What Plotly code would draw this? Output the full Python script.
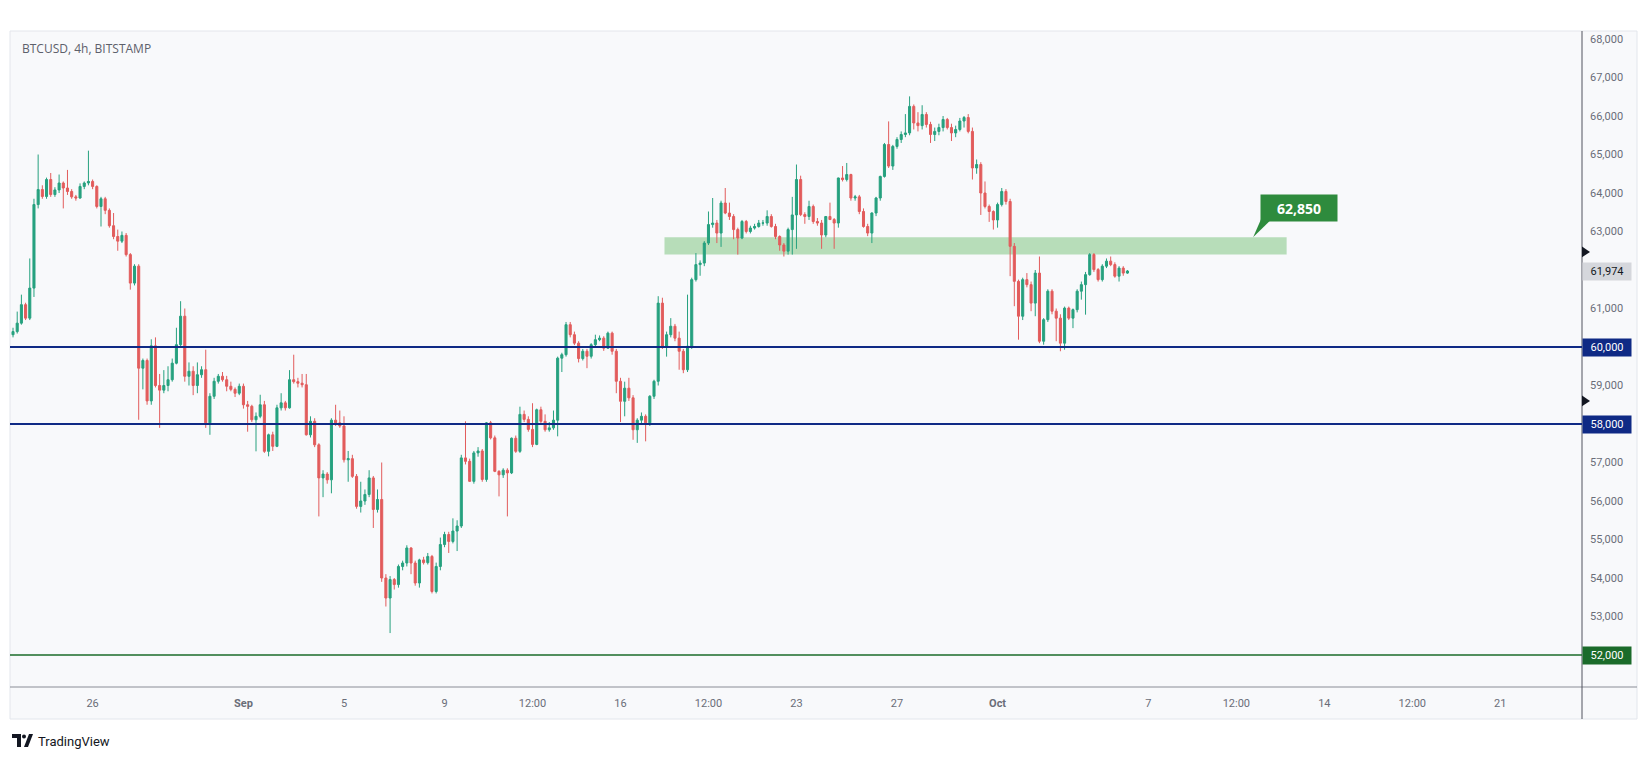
import plotly.graph_objects as go
import pandas as pd

# ---------------- data (BTCUSD 4h, Bitstamp) ----------------
start_time = "2024-08-22 20:00"

opens = [
    60320, 60400, 60620, 61100, 60750, 61530, 63700, 64090, 63910, 64350,
    63960, 64080, 64260, 64130, 64040, 63900, 63870, 64170, 64260, 64300,
    64170, 63650, 63850, 63550, 63150, 62870, 62750, 62900, 62400, 61660,
    62100, 59450, 59650, 58600, 60030, 59000, 58880, 59000, 59150, 59580,
    60060, 60800, 59240, 59370, 59000, 59280, 59410, 58030, 58720, 59110,
    59240, 59150, 58980, 58900, 58800, 58980, 58500, 58460, 58110, 58200,
    58500, 57290, 57720, 57420, 58420, 58550, 58420, 59150, 59100, 59060,
    59020, 57720, 58070, 57460, 56600, 56700, 56550, 58100, 58030, 57950,
    57070, 57100, 56640, 55860, 56000, 56170, 56600, 55780, 56040, 54000,
    53480, 53960, 53830, 54300, 54390, 54780, 54390, 53870, 54470, 54400,
    54560, 53650, 54300, 54870, 55130, 54950, 55220, 55350, 57120, 57030,
    56510, 57250, 57300, 56560, 58030, 57640, 56770, 56680, 56800, 56730,
    57630, 57290, 58250, 58120, 57860, 57470, 58370, 58070, 57850, 57900,
    58100, 59710, 59800, 60580, 60320, 60100, 59700, 59890, 59760, 60060,
    60190, 60230, 59970, 60360, 59890, 59110, 58590, 58930, 58680, 57850,
    58100, 58200, 58030, 58720, 59110, 61140, 60020, 60320, 60540, 60230,
    59890, 59410, 60020, 61750, 62140, 62180, 62700, 63180, 63220, 62960,
    63740, 63480, 63390, 63050, 62830, 63260, 63000, 63090, 63130, 63220,
    63220, 63390, 63130, 62870, 62650, 62490, 63050, 63430, 64350, 63440,
    63390, 63650, 63260, 63220, 62910, 63390, 63310, 63220, 64390, 64350,
    64480, 63870, 63900, 63520, 63130, 62960, 63480, 63870, 64430, 65260,
    64700, 65210, 65390, 65520, 65560, 66250, 65820, 65750, 66040, 65780,
    65520, 65600, 65700, 65910, 65700, 65560, 65650, 65870, 65960, 65600,
    64650, 64740, 64000, 63650, 63520, 63300, 63700, 64040, 63780, 62615,
    61706, 60800, 61750, 61620, 61140, 61920, 60150, 60710, 61450, 60930,
    60750, 60100, 61010, 60750, 60970, 61450, 61620, 61880, 62400, 62010,
    61750, 62100, 62230, 62140, 61840, 62050, 61920,
]
highs = [
    60500, 60920, 61360, 61150, 62300, 63850, 65000, 64200, 64400, 64520,
    64150, 64480, 64300, 64600, 64100, 63950, 64250, 64300, 65100, 64350,
    64200, 63900, 63900, 63600, 63480, 63050, 63000, 62960, 62440, 62150,
    62150, 59700, 59700, 60200, 60250, 59300, 59400, 59500, 59700, 60500,
    61190, 61000, 59600, 59500, 59600, 59500, 59930, 58800, 59200, 59300,
    59350, 59250, 59100, 58950, 59050, 59050, 58600, 58500, 58300, 58760,
    58600, 57750, 57800, 58500, 58800, 58600, 59400, 59800, 59200, 59300,
    59300, 58200, 58150, 57500, 56800, 56750, 58150, 58500, 58350, 58200,
    57300, 57200, 56700, 56500, 56300, 56800, 56650, 56300, 57000, 54100,
    54050, 54000, 54350, 54450, 54850, 54800, 54450, 54500, 54550, 54650,
    54600, 54400, 55050, 55200, 55200, 55550, 55500, 57200, 58070, 57100,
    57300, 57400, 57350, 58050, 58080, 57700, 56800, 56850, 56850, 57650,
    57700, 58450, 58350, 58200, 58540, 58400, 58450, 58250, 58050, 58350,
    59750, 59850, 60650, 60650, 60400, 60150, 59950, 59950, 60100, 60320,
    60300, 60280, 60400, 60400, 59950, 59200, 59100, 59200, 58750, 58150,
    58300, 58250, 58750, 59150, 61320, 61280, 60400, 60750, 60600, 60400,
    59950, 61360, 61800, 62440, 62250, 62750, 63520, 63870, 63300, 63800,
    64130, 63750, 63450, 63100, 63300, 63300, 63150, 63200, 63300, 63300,
    63550, 63450, 63200, 62900, 62700, 63100, 63900, 64740, 64450, 63500,
    63800, 63700, 63350, 63300, 63400, 63750, 63350, 64400, 64700, 64780,
    64500, 63950, 63950, 63600, 63200, 63500, 63900, 64450, 65300, 65860,
    65250, 65450, 65600, 66050, 66510, 66300, 66100, 66280, 66100, 65850,
    65700, 65800, 66000, 65950, 65800, 65750, 65950, 66000, 66050, 65700,
    64870, 64800, 64300, 63700, 63550, 63750, 64130, 64100, 63850, 62700,
    61750, 61800, 61920, 61700, 62000, 62350, 60750, 61500, 61500, 61000,
    60850, 61050, 61050, 61000, 61500, 61700, 61950, 62440, 62440, 62050,
    62150, 62300, 62350, 62200, 62100, 62100, 62000,
]
lows = [
    60250, 60350, 60580, 60700, 60700, 61300, 63600, 63850, 63850, 63900,
    63900, 64000, 63600, 63950, 63850, 63800, 63850, 64100, 64200, 64100,
    63600, 63130, 63450, 63100, 62800, 62500, 62700, 62350, 61490, 61600,
    58110, 58900, 58500, 58500, 58950, 57900, 58800, 58850, 59100, 59550,
    60000, 59100, 59000, 58750, 58800, 59200, 57900, 57720, 58650, 59050,
    59100, 58850, 58850, 58700, 58750, 58400, 57800, 58050, 57290, 58150,
    57250, 57160, 57300, 57400, 58350, 58350, 58400, 59050, 58950, 58950,
    57700, 57650, 57400, 55600, 56100, 56450, 56200, 57950, 57900, 57000,
    56500, 56600, 55800, 55700, 55900, 56100, 55300, 55700, 53900, 53260,
    52570, 53700, 53750, 54200, 54300, 54100, 53800, 53750, 54350, 54350,
    53600, 53600, 54200, 54800, 54650, 54900, 54700, 55300, 56950, 56500,
    56450, 57150, 56500, 56500, 57600, 56750, 56120, 56600, 55600, 56700,
    57250, 57250, 58050, 57800, 57400, 57450, 58000, 57800, 57800, 57850,
    57680, 59350, 59750, 60250, 60050, 59600, 59650, 59450, 59700, 60000,
    60150, 59900, 59950, 59800, 58800, 58050, 58200, 58600, 57590, 57510,
    58000, 57550, 57950, 58650, 59000, 59950, 59750, 60250, 60150, 59410,
    59320, 59350, 59950, 61700, 61850, 62100, 62650, 63100, 62700, 62600,
    63450, 63300, 62800, 62400, 62800, 62950, 62950, 63050, 63100, 63150,
    63150, 63100, 62800, 62500, 62350, 62400, 62400, 62550, 63400, 63200,
    63300, 63200, 63150, 62550, 62850, 63300, 62550, 63100, 64300, 64300,
    63800, 63800, 63450, 63100, 62880, 62700, 63400, 63800, 64400, 64650,
    64600, 65150, 65300, 65450, 65500, 65650, 65600, 65650, 65700, 65300,
    65350, 65500, 65600, 65650, 65350, 65450, 65600, 65700, 65550, 64350,
    64500, 63430, 63600, 63250, 63050, 63100, 63650, 63700, 61840, 61060,
    60190, 60700, 61550, 60930, 60800, 60100, 60060, 60650, 60850, 60150,
    59890, 59930, 60700, 60490, 60900, 61230, 60840, 61850, 61950, 61700,
    61700, 62050, 62100, 61800, 61700, 61850, 61900,
]
closes = [
    60400, 60620, 61100, 60750, 61530, 63700, 64090, 63910, 64350, 63960,
    64080, 64260, 64130, 64040, 63900, 63870, 64170, 64260, 64300, 64170,
    63650, 63850, 63550, 63150, 62870, 62750, 62900, 62400, 61660, 62100,
    59450, 59650, 58600, 60030, 59000, 58880, 59000, 59150, 59580, 60060,
    60800, 59240, 59370, 59000, 59280, 59410, 58030, 58720, 59110, 59240,
    59150, 58980, 58900, 58800, 58980, 58500, 58460, 58110, 58200, 58500,
    57290, 57720, 57420, 58420, 58550, 58420, 59150, 59100, 59060, 59020,
    57720, 58070, 57460, 56600, 56700, 56550, 58100, 58030, 57950, 57070,
    57100, 56640, 55860, 56000, 56170, 56600, 55780, 56040, 54000, 53480,
    53960, 53830, 54300, 54390, 54780, 54390, 53870, 54470, 54400, 54560,
    53650, 54300, 54870, 55130, 54950, 55220, 55350, 57120, 57030, 56510,
    57250, 57300, 56560, 58030, 57640, 56770, 56680, 56800, 56730, 57630,
    57290, 58250, 58120, 57860, 57470, 58370, 58070, 57850, 57900, 58100,
    59710, 59800, 60580, 60320, 60100, 59700, 59890, 59760, 60060, 60190,
    60230, 59970, 60360, 59890, 59110, 58590, 58930, 58680, 57850, 58100,
    58200, 58030, 58720, 59110, 61140, 60020, 60320, 60540, 60230, 59890,
    59410, 60020, 61750, 62140, 62180, 62700, 63180, 63220, 62960, 63740,
    63480, 63390, 63050, 62830, 63260, 63000, 63090, 63130, 63220, 63220,
    63390, 63130, 62870, 62650, 62490, 63050, 63430, 64350, 63440, 63390,
    63650, 63260, 63220, 62910, 63390, 63310, 63220, 64390, 64350, 64480,
    63870, 63900, 63520, 63130, 62960, 63480, 63870, 64430, 65260, 64700,
    65210, 65390, 65520, 65560, 66250, 65820, 65750, 66040, 65780, 65520,
    65600, 65700, 65910, 65700, 65560, 65650, 65870, 65960, 65600, 64650,
    64740, 64000, 63650, 63520, 63300, 63700, 64040, 63780, 62615, 61706,
    60800, 61750, 61620, 61140, 61920, 60150, 60710, 61450, 60930, 60750,
    60100, 61010, 60750, 60970, 61450, 61620, 61880, 62400, 62010, 61750,
    62100, 62230, 62140, 61840, 62050, 61920, 61974,
]

tick_times = ["2024-08-26 00:00", "2024-09-01 00:00", "2024-09-05 00:00",
              "2024-09-09 00:00", "2024-09-12 12:00", "2024-09-16 00:00",
              "2024-09-19 12:00", "2024-09-23 00:00", "2024-09-27 00:00",
              "2024-10-01 00:00", "2024-10-07 00:00", "2024-10-10 12:00",
              "2024-10-14 00:00", "2024-10-17 12:00", "2024-10-21 00:00"]
tick_labels = ["26", "<b>Sep</b>", "5", "9", "12:00", "16", "12:00", "23",
               "27", "<b>Oct</b>", "7", "12:00", "14", "12:00", "21"]

price_ticks = list(range(52000, 69000, 1000))
blue_levels = [60000, 58000]
green_level = 52000
zone_low, zone_high = 62400, 62850
zone_start, zone_end = "2024-09-17 18:00", "2024-10-12 12:00"
callout_tip, callout_center = "2024-10-11 04:00", "2024-10-13 00:00"
last_price = 61974
marker_prices = [62470, 58600]

# ---------------- helpers ----------------
t0 = pd.Timestamp(start_time)
bar = pd.Timedelta(hours=4)
times = pd.date_range(t0, periods=len(closes), freq="4h")
xpos = [(t - t0) / bar for t in times]


def tx(t):
    return (pd.Timestamp(t) - t0) / bar


W, H = 1651, 760
L, R, T, B = 10, 69, 32, 73
PW, PH = W - L - R, H - T - B


def px(x):
    return (x - L) / PW


def py(y):
    return (H - B - y) / PH


GREEN = "#26a17f"
RED = "#e25c5c"
NAVY = "#0f2a85"
DKGREEN = "#1b6b2a"
CALLOUT = "#2e8b3d"
TXT = "#6a6d78"
BG = "#f8f9fb"

fig = go.Figure()
fig.add_trace(go.Candlestick(
    x=xpos, open=opens, high=highs, low=lows, close=closes,
    increasing=dict(line=dict(color=GREEN, width=1), fillcolor=GREEN),
    decreasing=dict(line=dict(color=RED, width=1), fillcolor=RED),
    whiskerwidth=0, hoverinfo="skip", showlegend=False,
))

shapes = []
# pane backgrounds
shapes.append(dict(type="rect", xref="paper", yref="paper",
                   x0=px(10), x1=px(1637), y0=py(719), y1=py(31),
                   fillcolor=BG, line=dict(color="#e3e6ec", width=1), layer="below"))
# axis separators
shapes.append(dict(type="line", xref="paper", yref="paper",
                   x0=px(10), x1=px(1637), y0=0, y1=0,
                   line=dict(color="#8a8d96", width=1)))
shapes.append(dict(type="line", xref="paper", yref="paper",
                   x0=1, x1=1, y0=py(719), y1=py(31),
                   line=dict(color="#50535e", width=1)))
# resistance zone
shapes.append(dict(type="rect", xref="x", yref="y",
                   x0=tx(zone_start), x1=tx(zone_end), y0=zone_low, y1=zone_high,
                   fillcolor="rgba(76,175,80,0.38)", line=dict(width=0), layer="below"))
# horizontal levels
for lv in blue_levels:
    shapes.append(dict(type="line", xref="paper", yref="y", x0=0, x1=1, y0=lv, y1=lv,
                       line=dict(color=NAVY, width=2)))
shapes.append(dict(type="line", xref="paper", yref="y", x0=0, x1=1,
                   y0=green_level, y1=green_level, line=dict(color=DKGREEN, width=1.5)))
# small markers at price axis
for mp in marker_prices:
    shapes.append(dict(type="path", xref="paper", yref="y",
                       path=f"M {px(1582)} {mp + 140} L {px(1590)} {mp} L {px(1582)} {mp - 140} Z",
                       fillcolor="#131722", line=dict(width=0)))
# callout pointer
tip_x = tx(callout_tip)
shapes.append(dict(type="path", xref="x", yref="y",
                   path=(f"M {tip_x} {zone_high} L {tip_x + 2.4} {63450} "
                         f"L {tip_x + 5.6} {63450} Z"),
                   fillcolor=CALLOUT, line=dict(width=0)))

# TradingView logo
logo = [
    f"M {px(12)} {py(734)} L {px(21)} {py(734)} L {px(21)} {py(747)} L {px(17)} {py(747)} "
    f"L {px(17)} {py(738)} L {px(12)} {py(738)} Z",
    f"M {px(24)} {py(747)} L {px(28)} {py(747)} L {px(33)} {py(734)} L {px(29)} {py(734)} Z",
]
for p in logo:
    shapes.append(dict(type="path", xref="paper", yref="paper", path=p,
                       fillcolor="#131722", line=dict(width=0)))
shapes.append(dict(type="circle", xref="paper", yref="paper",
                   x0=px(22), x1=px(26), y0=py(738.5), y1=py(734.5),
                   fillcolor="#131722", line=dict(width=0)))

annotations = []
annotations.append(dict(xref="paper", yref="paper", x=px(20), y=py(49),
                        text="BTCUSD, 4h, BITSTAMP", showarrow=False,
                        xanchor="left", yanchor="middle",
                        font=dict(family="Open Sans, sans-serif", size=12, color="#5d606b")))
annotations.append(dict(xref="paper", yref="paper", x=px(36), y=py(741),
                        text="TradingView", showarrow=False,
                        xanchor="left", yanchor="middle",
                        font=dict(family="Roboto, sans-serif", size=13, color="#131722")))
# callout box
annotations.append(dict(xref="x", yref="y", x=tx(callout_center), y=63620,
                        text="<b>62,850</b>", showarrow=False,
                        xanchor="center", yanchor="middle",
                        width=74, height=24, bgcolor=CALLOUT,
                        font=dict(family="Open Sans, sans-serif", size=14, color="white")))
# price-axis labels
axis_boxes = [(lv, NAVY, "white") for lv in blue_levels] + \
             [(green_level, DKGREEN, "white"), (last_price, "#d5d7dc", "#131722")]
for val, bg, fg in axis_boxes:
    annotations.append(dict(xref="paper", yref="y", x=px(1607), y=val,
                            text=f"{val:,}", showarrow=False,
                            xanchor="center", yanchor="middle",
                            width=46, height=15, bgcolor=bg,
                            font=dict(family="Roboto, sans-serif", size=11, color=fg)))

covered = set(blue_levels + [green_level, 62000])
yt = [v for v in price_ticks if v not in covered]

fig.update_layout(
    width=W, height=H, autosize=False,
    margin=dict(l=L, r=R, t=T, b=B),
    paper_bgcolor="white", plot_bgcolor=BG,
    shapes=shapes, annotations=annotations,
    xaxis=dict(range=[-0.72, 374.5], rangeslider=dict(visible=False),
               tickvals=[tx(t) for t in tick_times], ticktext=tick_labels,
               showgrid=False, zeroline=False, showline=False, ticks="",
               tickfont=dict(family="Roboto, sans-serif", size=11, color=TXT),
               ticklabelstandoff=8, fixedrange=True),
    yaxis=dict(range=[51169, 68182], side="right",
               tickvals=yt, ticktext=[f"{v:,}" for v in yt],
               showgrid=False, zeroline=False, showline=False, ticks="",
               tickfont=dict(family="Roboto, sans-serif", size=11, color=TXT),
               ticklabelstandoff=7, fixedrange=True),
)

fig.write_html("out.html")
